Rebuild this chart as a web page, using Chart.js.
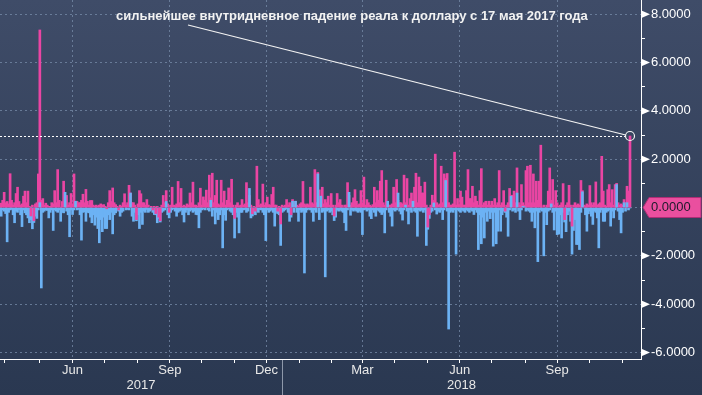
<!DOCTYPE html>
<html><head><meta charset="utf-8">
<script src="https://cdn.jsdelivr.net/npm/chart.js@4.4.1/dist/chart.umd.min.js"></script>
<style>html,body{margin:0;padding:0;background:#2e3c56;overflow:hidden}</style>
</head><body>
<canvas id="c" width="702" height="395"></canvas>
<script>
// ---- data (one value per trading day, starting Mon 10 Apr 2017) ----
const startDate = '2017-04-10';
// intraday maximum change vs previous close, % (pink)
const highs = [
0.10,0.18,0.30,0.63,0.20,0.25,0.15,1.40,0.30,0.10,
0.20,0.58,0.84,0.25,0.10,0.15,0.47,0.68,0.20,0.68,
0.05,-0.35,0.10,-0.55,0.15,0.20,1.39,7.35,0.30,0.37,
0.10,0.18,0.10,0.05,0.05,0.20,0.15,0.70,0.20,1.57,
0.30,0.02,0.25,1.09,0.50,0.50,0.10,0.20,0.58,0.15,
1.39,0.10,0.26,0.20,0.20,0.30,0.55,0.20,0.75,0.26,
0.10,0.29,0.29,0.10,0.05,0.10,0.05,0.10,0.15,0.10,
0.12,0.05,-0.05,0.20,0.70,0.25,0.81,0.20,0.12,0.05,
-0.10,0.10,0.05,0.20,0.57,0.10,0.20,0.92,0.60,0.20,
0.20,0.10,-0.50,0.15,0.70,0.57,0.20,0.20,0.10,0.33,
0.10,0.00,0.05,-0.10,0.05,-0.25,0.05,-0.40,-0.55,0.10,
0.50,0.20,0.70,0.15,-0.20,0.10,0.84,0.10,0.08,0.15,
1.08,0.20,0.79,0.05,0.10,0.05,0.15,0.10,0.60,0.20,
1.05,0.10,0.10,0.05,0.20,0.80,0.10,0.44,0.30,0.72,
0.20,1.34,0.40,1.42,0.20,0.50,1.13,0.15,0.10,1.13,
0.20,0.68,0.10,0.30,0.81,0.20,1.17,0.10,-0.45,0.10,
0.20,0.05,0.10,0.33,0.10,0.15,1.03,0.20,0.50,0.10,
-0.26,0.05,-0.15,1.71,0.33,0.10,0.15,0.97,0.10,0.20,
0.43,0.12,0.10,0.54,0.84,0.10,0.10,-0.15,0.05,-0.68,
0.10,0.05,0.10,0.33,0.10,0.20,-0.30,0.33,0.10,0.26,
0.10,0.05,0.15,0.20,1.08,0.15,0.10,0.15,0.10,0.84,
0.20,0.15,1.57,0.20,1.45,0.73,0.20,0.84,0.15,0.33,
0.20,0.47,0.10,0.58,0.10,-0.35,0.10,0.58,0.20,0.33,
0.10,0.02,0.10,0.10,1.03,0.50,0.10,0.20,0.40,0.74,
0.26,0.10,0.15,0.70,0.20,1.26,0.10,0.33,0.20,0.10,
0.05,0.12,0.84,0.20,0.70,0.30,1.09,1.53,0.20,0.10,
1.13,0.20,0.10,0.10,0.15,0.84,0.20,1.16,0.30,0.20,
0.20,0.15,1.34,0.20,1.20,0.10,0.37,0.60,0.25,0.84,
1.42,0.20,1.26,0.88,0.60,0.60,1.05,0.10,-0.81,-0.30,
0.10,0.51,0.30,2.21,0.20,0.10,0.15,1.71,0.20,1.39,
1.20,1.41,0.20,0.10,0.10,0.15,2.29,0.10,0.37,0.12,
0.68,0.43,0.10,0.10,0.70,1.57,0.37,0.37,0.88,0.20,
0.47,0.26,0.10,0.70,1.61,0.10,0.20,0.26,0.10,0.26,
0.10,0.26,0.10,0.37,0.10,0.20,1.53,0.10,0.20,0.70,
-0.15,0.10,0.20,0.79,0.50,0.51,0.68,0.20,1.64,0.20,
0.10,0.95,0.20,0.10,1.53,1.71,0.20,1.75,0.20,1.39,
0.20,1.09,0.30,1.09,2.58,0.02,0.10,0.00,0.10,0.68,
1.64,0.30,1.16,0.10,0.70,0.20,0.05,0.10,0.20,0.99,
-0.50,0.10,0.20,0.92,0.10,-0.77,0.10,0.20,0.10,0.15,
0.10,1.12,0.70,0.10,0.07,0.15,0.10,0.91,0.20,0.10,
0.20,1.06,0.10,0.15,0.20,2.12,0.68,0.10,0.05,0.74,
0.95,0.20,0.74,0.10,0.95,1.00,0.20,0.10,0.15,0.10,
0.33,0.20,0.88,0.68,2.96
];
// intraday minimum change vs previous close, % (blue)
const lows = [
-0.20,-0.36,-0.10,-0.15,-0.25,-1.42,-0.20,-0.10,-0.08,-0.30,
-0.63,-0.15,-0.20,-0.08,-0.30,-0.79,-0.10,-0.22,-0.30,-0.43,
-0.63,-0.50,-0.88,-0.62,-0.36,-0.45,-0.10,0.20,-3.33,-0.20,
-0.15,-0.10,-0.12,-0.43,-0.20,-0.10,-0.95,-0.10,-0.15,-0.20,
-0.10,-0.57,-0.20,-0.22,0.63,-0.15,-0.30,-1.21,-0.10,-0.29,
-0.10,0.26,-0.10,-0.08,-0.30,-1.35,-0.20,-0.18,-0.57,-0.20,
-0.22,-0.40,-0.63,-0.30,-0.73,-0.40,-0.87,-1.46,-0.50,-1.00,
-0.40,-0.87,-0.87,-0.30,-0.50,-0.20,-1.09,-0.30,-0.22,-0.10,
-0.15,-0.36,-0.20,-0.15,0.00,-0.10,-0.08,-0.10,0.60,-0.36,
-0.57,-0.20,-0.55,-0.30,-0.87,-0.20,-0.70,-0.15,-0.20,-0.08,
-0.20,-0.15,-0.10,-0.20,-0.29,-0.30,-0.63,-0.45,-0.60,-0.20,
-0.15,-0.10,0.25,-0.30,-0.43,-0.20,-0.10,-0.05,-0.15,-0.36,
-0.20,-0.15,-0.10,-0.30,-0.60,-0.20,-0.10,-0.30,-0.15,-0.10,
-0.20,-0.15,-0.29,-0.30,-0.84,-0.20,-0.10,-0.05,-0.10,0.00,
-0.10,-0.15,0.30,-0.36,-0.10,-0.68,-0.20,-0.50,-0.30,-0.10,
-1.67,-0.30,-0.53,-0.10,-0.05,-0.15,-0.20,-0.30,-1.26,-0.20,
-0.40,-1.05,-0.20,-0.20,-0.10,-0.08,-0.20,-0.15,0.79,-0.43,
-0.35,-0.20,-0.30,-0.10,-0.20,-0.08,-0.10,-0.20,-0.30,-1.37,
-0.10,-0.20,-0.15,-0.10,-0.20,-0.77,-0.20,-0.25,-0.30,-1.57,
-0.20,-0.15,-0.10,-0.05,-0.20,-0.57,-0.40,0.26,-0.20,0.26,
-0.20,-0.57,-0.10,-0.20,-0.15,-2.71,-0.20,-0.10,-0.05,-0.10,
-0.20,-0.57,-0.10,-0.20,1.39,-0.50,0.47,-0.20,-0.15,-2.87,
-0.15,-0.10,-0.20,-0.15,-0.30,-0.54,-0.40,-0.10,-0.15,-0.10,
-0.15,-0.20,-0.63,-0.95,-0.10,0.63,-0.32,-0.10,-0.15,-0.10,
-0.15,-0.20,-0.15,-0.20,-1.12,-0.10,-0.08,-0.15,-0.10,-0.36,
-0.46,-0.10,-0.20,-0.36,-0.10,-0.15,-0.20,-0.29,-0.20,-1.05,
-0.10,0.26,-0.20,-0.36,-0.77,-0.10,-0.15,-0.10,0.60,-0.15,
-0.27,-0.52,-0.10,0.10,-0.15,-0.68,-0.10,-0.20,0.26,-0.15,
-0.20,-1.19,-0.10,-0.15,-0.10,-0.20,-0.10,-1.57,-0.90,-0.45,
-0.20,-0.15,0.19,-0.10,-0.27,-0.15,-0.20,-0.10,-0.50,-0.10,
1.12,-0.15,-5.03,-0.20,-0.15,-0.20,-0.10,-1.93,-0.10,-0.15,
-0.20,-0.10,-0.15,-0.20,-0.10,-0.15,-0.20,-0.10,-0.15,-0.29,
-0.10,-0.20,-1.74,-0.30,-1.50,-0.40,-1.26,-0.20,-0.57,-0.15,
-0.46,-0.20,-1.60,-0.20,-1.50,-0.98,-0.10,-0.98,-0.30,-0.15,
-0.20,-0.40,-1.19,-0.10,0.47,-0.15,-0.10,-0.20,0.60,-0.15,
-0.50,-0.10,0.05,0.02,-0.15,-0.10,-0.15,-0.20,-0.57,-0.20,
-0.84,-0.15,-2.24,-0.20,-0.10,-0.15,-2.00,-0.20,-0.71,-0.15,
-0.10,0.15,-0.20,-0.93,-0.15,-1.12,-1.10,-0.30,-1.26,-0.20,
-0.60,-1.00,-0.30,-0.15,-0.57,-1.93,-0.95,-0.50,-1.53,-1.53,
-1.74,-0.20,0.65,-0.02,-0.30,-0.98,-0.26,-0.15,-0.36,-0.70,
-0.15,-0.20,-0.43,-1.67,-0.20,-0.10,-0.57,-0.57,-0.20,-0.15,
-0.10,-0.77,-0.15,-0.43,-0.10,0.95,-0.15,-0.50,-1.05,-0.20,
0.20,-0.15,0.20,-0.10,-0.02
];
const yTickValues = [-6,-5,-4,-3,-2,-1,0,1,2,3,4,5,6,7,8];
const monthNames = ['Jan','Feb','Mar','Apr','May','Jun','Jul','Aug','Sep','Oct','Nov','Dec'];
const annotationText = 'сильнейшее внутридневное падение реала к доллару с 17 мая 2017 года';

// ---- colours / layout ----
const PINK = '#ea45a3';
const BLUE = '#6cb2f4';
const GRID = 'rgba(120,140,170,0.75)';
const FONT = "'Liberation Sans', Arial, sans-serif";
const X_MIN = 0.2, X_MAX = 431.4;

// trading-day calendar (weekdays) from startDate
const tradingDays = [];
(function(){
  const p = startDate.split('-').map(Number);
  const d = new Date(Date.UTC(p[0], p[1]-1, p[2]));
  while (tradingDays.length < 440) {
    const wd = d.getUTCDay();
    if (wd !== 0 && wd !== 6) tradingDays.push(new Date(d.getTime()));
    d.setUTCDate(d.getUTCDate()+1);
  }
})();
const monthStarts = [];
for (let i = 1; i < tradingDays.length; i++) {
  if (tradingDays[i].getUTCMonth() !== tradingDays[i-1].getUTCMonth() && i <= X_MAX) {
    monthStarts.push({index: i, month: tradingDays[i].getUTCMonth(), year: tradingDays[i].getUTCFullYear()});
  }
}
const monthOf = {};
monthStarts.forEach(m => { monthOf[m.index] = m; });

const toPts = (arr, f) => arr.map((v, i) => ({x: i, y: f(v) === 0 ? null : f(v)}));
const common = {grouped: false, barThickness: 2, borderWidth: 0};

const decor = {
  id: 'decor',
  beforeDraw(chart) {
    const {ctx, width, height} = chart;
    const g = ctx.createLinearGradient(0, 0, 0, height);
    g.addColorStop(0, '#3f4c68');
    g.addColorStop(1, '#2a3851');
    ctx.save();
    ctx.fillStyle = g;
    ctx.fillRect(0, 0, width, height);
    // zero value tag
    const ys = chart.scales.y;
    const y0 = ys.getPixelForValue(0);
    const ax = ys.left;
    ctx.beginPath();
    ctx.moveTo(ax + 2, y0);
    ctx.lineTo(ax + 8, y0 - 10);
    ctx.lineTo(width - 1, y0 - 10);
    ctx.lineTo(width - 1, y0 + 10);
    ctx.lineTo(ax + 8, y0 + 10);
    ctx.closePath();
    ctx.fillStyle = '#ea4f9f';
    ctx.fill();
    ctx.strokeStyle = '#b02d76';
    ctx.lineWidth = 1;
    ctx.stroke();
    ctx.restore();
  },
  afterDatasetsDraw(chart) {
    const {ctx, chartArea} = chart;
    const xs = chart.scales.x, ys = chart.scales.y;
    const last = highs.length - 1;
    const cx = xs.getPixelForValue(last), cy = ys.getPixelForValue(highs[last]);
    ctx.save();
    ctx.strokeStyle = '#ffffff';
    ctx.lineWidth = 1;
    ctx.setLineDash([2, 2]);
    ctx.beginPath();
    ctx.moveTo(chartArea.left, Math.round(cy) + 0.5);
    ctx.lineTo(cx - 5, Math.round(cy) + 0.5);
    ctx.stroke();
    ctx.restore();
  },
  afterDraw(chart) {
    const {ctx, chartArea, height} = chart;
    const xs = chart.scales.x, ys = chart.scales.y;
    ctx.save();
    // major tick arrows on the value axis
    ctx.fillStyle = '#ffffff';
    yTickValues.forEach(v => {
      if (v % 2 !== 0 || v === 0) return;
      const y = ys.getPixelForValue(v);
      ctx.beginPath();
      ctx.moveTo(ys.left + 1, y - 3.5);
      ctx.lineTo(ys.left + 9, y);
      ctx.lineTo(ys.left + 1, y + 3.5);
      ctx.closePath();
      ctx.fill();
    });
    // month labels (mid-month) and year labels
    ctx.font = '13px ' + FONT;
    ctx.fillStyle = '#e8e8e8';
    ctx.textAlign = 'center';
    ctx.textBaseline = 'middle';
    for (let k = 0; k < monthStarts.length - 1; k++) {
      const m = monthStarts[k];
      if (m.month % 3 !== 2) continue;
      const x = (xs.getPixelForValue(m.index) + xs.getPixelForValue(monthStarts[k+1].index)) / 2;
      ctx.fillText(monthNames[m.month], x, chartArea.bottom + 11);
    }
    const jan = monthStarts.find(m => m.month === 0);
    const xj = xs.getPixelForValue(jan.index);
    ctx.fillText(String(jan.year - 1), (chartArea.left + xj) / 2, chartArea.bottom + 26);
    ctx.fillText(String(jan.year), (xj + chartArea.right) / 2, chartArea.bottom + 26);
    ctx.strokeStyle = '#8e98aa';
    ctx.lineWidth = 1;
    ctx.beginPath();
    ctx.moveTo(Math.round(xj) + 0.5, chartArea.bottom + 1);
    ctx.lineTo(Math.round(xj) + 0.5, height);
    ctx.stroke();
    // annotation
    const last = highs.length - 1;
    const cx = xs.getPixelForValue(last), cy = ys.getPixelForValue(highs[last]);
    const r = 4.5;
    ctx.strokeStyle = '#f4f4f4';
    ctx.lineWidth = 1.2;
    ctx.beginPath();
    ctx.arc(cx, cy, r, 0, Math.PI * 2);
    ctx.stroke();
    const sx = 188, sy = 25;
    const dx = cx - sx, dy = cy - sy, len = Math.hypot(dx, dy);
    ctx.lineWidth = 1.1;
    ctx.beginPath();
    ctx.moveTo(sx, sy);
    ctx.lineTo(cx - dx / len * r, cy - dy / len * r);
    ctx.stroke();
    ctx.font = 'bold 13px ' + FONT;
    ctx.fillStyle = '#f2f2f2';
    ctx.textAlign = 'left';
    ctx.textBaseline = 'middle';
    ctx.fillText(annotationText, 116, 16);
    ctx.restore();
  }
};

new Chart(document.getElementById('c'), {
  type: 'bar',
  data: {
    datasets: [
      Object.assign({label: 'low above zero', data: toPts(lows, v => Math.max(v, 0)), backgroundColor: BLUE, order: 0}, common),
      Object.assign({label: 'high below zero', data: toPts(highs, v => Math.min(v, 0)), backgroundColor: PINK, order: 0}, common),
      Object.assign({label: 'high', data: toPts(highs, v => Math.max(v, 0)), backgroundColor: PINK, order: 1}, common),
      Object.assign({label: 'low', data: toPts(lows, v => Math.min(v, 0)), backgroundColor: BLUE, order: 1}, common)
    ]
  },
  options: {
    responsive: false,
    animation: false,
    devicePixelRatio: 1,
    layout: {padding: 0},
    plugins: {legend: {display: false}, tooltip: {enabled: false}},
    scales: {
      x: {
        type: 'linear', min: X_MIN, max: X_MAX, offset: false,
        afterBuildTicks: s => { s.ticks = monthStarts.map(m => ({value: m.index})); },
        ticks: {display: false, autoSkip: false},
        grid: {
          color: c => (c.tick && monthOf[c.tick.value] && monthOf[c.tick.value].month % 3 === 0) ? GRID : 'rgba(0,0,0,0)',
          lineWidth: 1, drawTicks: true, tickLength: 4, tickColor: '#ffffff'
        },
        border: {display: true, color: '#ffffff', width: 1, dash: [2, 3]},
        afterFit: s => { s.height = 36; s.paddingLeft = 0; s.paddingRight = 0; }
      },
      y: {
        type: 'linear', position: 'right', min: -6.27, max: 8.59,
        afterBuildTicks: s => { s.ticks = yTickValues.map(v => ({value: v})); },
        ticks: {
          autoSkip: false, padding: 6,
          callback: v => (v % 2 === 0) ? v.toFixed(4) : '',
          color: c => (c.tick && c.tick.value === 0) ? '#1d1a2c' : '#ffffff',
          font: {family: FONT, size: 13}
        },
        grid: {
          color: c => (c.tick && c.tick.value % 2 === 0) ? GRID : 'rgba(0,0,0,0)',
          drawTicks: true, tickLength: 4,
          tickColor: c => (c.tick && c.tick.value === 0) ? 'rgba(0,0,0,0)' : '#ffffff'
        },
        border: {display: true, color: '#ffffff', width: 1, dash: [2, 3]},
        afterFit: s => { s.width = 61; s.paddingTop = 0; s.paddingBottom = 0; }
      }
    }
  },
  plugins: [decor]
});
</script>
</body></html>
